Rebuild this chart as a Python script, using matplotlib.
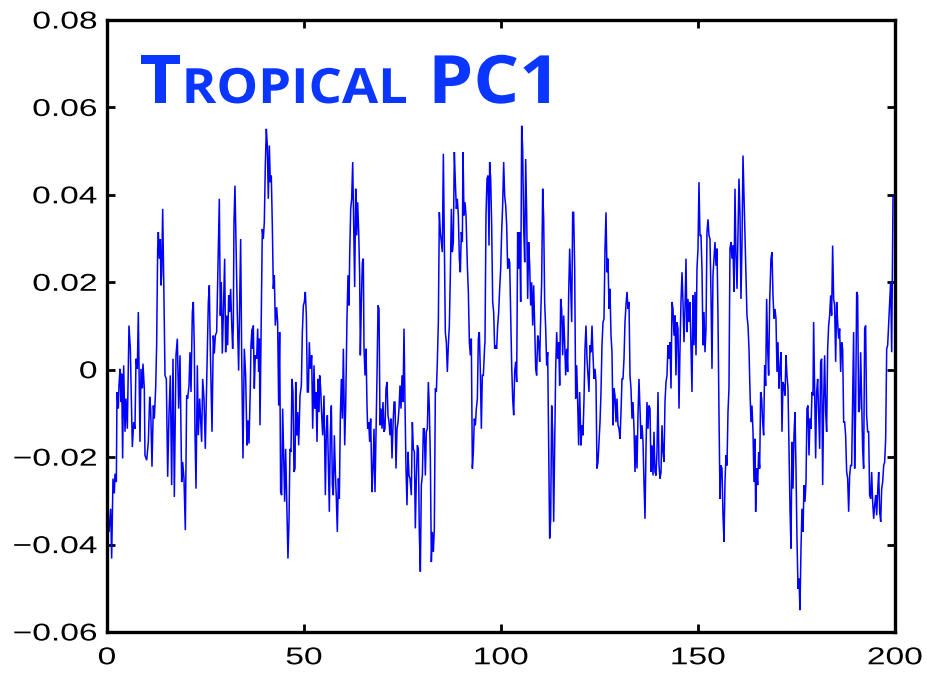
import numpy as np
import matplotlib
matplotlib.use("Agg")
import matplotlib.pyplot as plt
from matplotlib.patheffects import AbstractPathEffect
from matplotlib.transforms import Affine2D
from matplotlib.ticker import FuncFormatter

# ---------------- data: (time, PC1 x 1000) ----------------
pc1_samples = [
    (0.00, -33.3), (0.50, -37.1), (0.93, -31.8), (1.18, -43.2), (1.52, -24.9), (1.86, -28.3),
    (2.03, -23.8), (2.37, -25.7), (2.54, -5.1), (2.87, -8.9), (3.04, -3.6), (3.30, 0.2),
    (3.55, -7.4), (3.72, -0.9), (3.97, -20.3), (4.23, 1.0), (4.57, -14.2), (4.82, -6.6),
    (5.16, -13.5), (5.58, 10.1), (5.92, 4.8), (6.43, -17.7), (6.77, -12.0), (7.10, -13.5),
    (7.36, 2.5), (7.70, 0.2), (7.95, 13.2), (8.37, -16.5), (8.63, 0.2), (8.97, -4.3),
    (9.13, 1.4), (9.47, -4.3), (9.64, -19.6), (10.07, -20.7), (10.49, -16.5), (10.83, -6.2),
    (11.08, -8.9), (11.42, -22.2), (11.76, -8.2), (12.01, -11.2), (12.35, -4.3), (12.60, 5.6),
    (12.86, 27.7), (13.03, 31.5), (13.28, 25.4), (13.53, 29.9), (13.70, 19.3), (13.87, 21.6),
    (14.13, 36.8), (14.38, 21.6), (14.72, -1.3), (15.06, -2.1), (15.40, -24.5), (15.73, -10.4),
    (16.07, -1.3), (16.41, -26.4), (16.75, 2.5), (17.09, -29.1), (17.51, 3.3), (17.85, 7.1),
    (18.19, -8.9), (18.53, 3.3), (18.95, -25.7), (19.20, -21.1), (19.54, -24.9), (19.88, -36.7),
    (20.22, -5.9), (20.47, -6.6), (20.81, -3.6), (21.06, 4.0), (21.32, -5.1), (21.66, 13.2),
    (21.91, 15.5), (22.16, 4.8), (22.33, -14.2), (22.59, -27.2), (22.93, 1.0), (23.18, -15.0),
    (23.52, -6.6),
    (24.02, -16.5), (24.28, -2.1), (24.62, -6.6), (24.95, -18.1), (25.29, -2.8), (25.72, 15.5),
    (25.97, 19.3), (26.22, 4.8), (26.65, -14.2), (26.98, 7.8), (27.24, 3.7), (27.49, 7.8),
    (27.83, 8.6), (28.25, 27.7), (28.51, 39.1), (28.76, 12.4), (29.01, 20.0), (29.27, 3.7),
    (29.52, 12.4), (29.86, 25.4), (30.11, 4.0), (30.37, 12.4), (30.62, 5.6), (30.88, 17.0),
    (31.13, 13.2), (31.38, 18.5), (31.64, 10.9), (31.89, 4.8), (32.06, 10.1), (32.23, 33.8),
    (32.48, 42.1), (32.74, 29.2), (33.08, 12.4), (33.41, -0.2), (33.67, 15.5), (33.92, 29.9),
    (34.18, 3.3), (34.51, -20.3), (34.85, 4.8), (35.19, -1.3), (35.53, -17.3), (35.78, -11.6),
    (36.04, -16.9), (36.37, -4.3), (36.54, 5.6), (36.80, 9.4), (36.97, 4.8), (37.14, 10.1),
    (37.39, -4.3), (37.64, 3.3), (37.98, 2.5), (38.24, 9.4), (38.49, -0.5), (38.66, 7.1),
    (38.83, -12.7), (39.17, 12.4), (39.42, 32.2), (39.67, 29.9), (39.93, 33.8), (40.18, 46.7),
    (40.44, 55.1), (40.69, 51.3), (40.94, 39.1), (41.20, 51.3), (41.45, 42.9), (41.70, 44.4),
    (41.96, 33.0), (42.21, 18.5), (42.47, 21.6), (42.72, 10.1), (43.06, 14.3), (43.31, 10.9),
    (43.57, -8.2), (43.82, 8.6), (44.07, -28.0), (44.33, -28.7), (44.58, -8.9), (44.83, -19.6),
    (45.09, -30.2), (45.34, -18.1), (45.60, -29.5), (45.93, -43.2), (46.19, -34.8), (46.44, -18.1),
    (46.70, -18.8), (46.95, -2.1), (47.20, -5.1), (47.46, -23.4),
    (47.72, -22.6), (47.89, -2.8), (48.14, -15.0), (48.40, -9.7), (48.65, -17.3), (48.99, -5.9),
    (49.33, -3.6), (49.58, 8.6), (49.84, 14.7), (50.09, 15.5), (50.34, 17.8), (50.60, 12.4),
    (50.85, -5.1), (51.10, -5.1), (51.36, 6.3), (51.61, 0.2), (51.95, 3.3), (52.20, -13.5),
    (52.54, 1.0), (52.80, -8.9), (53.05, -5.1), (53.30, -16.5), (53.56, -2.1), (53.81, -9.7),
    (53.98, -1.3), (54.23, -4.3), (54.49, -10.4), (54.74, -15.0), (55.08, -5.9), (55.42, -28.7),
    (55.67, -14.2), (55.93, -10.4), (56.18, -21.1), (56.43, -32.5), (56.69, -14.2), (56.94, -8.2),
    (57.20, -26.4), (57.45, -28.7), (57.70, -15.0), (57.96, -23.4), (58.21, -29.5), (58.46, -37.1),
    (58.72, -24.9), (58.97, -29.5), (59.23, -10.4), (59.48, -2.1), (59.73, -11.2), (59.99, 4.8),
    (60.33, -17.3), (60.58, -8.2), (60.92, 12.4), (61.17, 21.6), (61.43, 14.7), (61.59, 26.1),
    (61.85, 36.8), (62.10, 39.1), (62.36, 47.5), (62.61, 33.8), (62.86, 18.9), (63.12, 41.4),
    (63.37, 30.7), (63.62, 38.3), (63.88, 31.5), (64.13, 21.6), (64.30, 3.3), (64.56, 15.5),
    (64.81, 24.6), (65.06, 25.4), (65.23, 4.8), (65.49, -1.3), (65.74, 4.8), (65.99, -8.2),
    (66.16, -13.5), (66.42, -12.0), (66.67, -16.5), (66.92, -11.2), (67.26, -28.0), (67.52, -22.6),
    (67.77, -13.5), (68.02, -28.0), (68.28, -15.0), (68.53, -1.3), (68.79, 14.7), (69.04, 13.9),
    (69.29, -12.7), (69.55, -8.9), (69.80, -13.5), (70.05, -7.4), (70.31, -14.2), (70.56, -13.5),
    (70.82, -4.3), (71.07, -2.8), (71.32, -10.4), (71.58, -12.0),
    (71.83, -15.0), (72.08, -11.2), (72.34, -20.3), (72.59, -12.7), (72.85, -7.4), (73.10, -7.4),
    (73.35, -22.6), (73.61, -13.5), (73.86, -12.0), (74.11, -8.9), (74.37, -3.6), (74.62, -8.9),
    (74.88, -1.3), (75.13, -7.4), (75.38, 9.4), (75.64, -8.2), (75.89, -22.6), (76.14, -31.0),
    (76.40, -18.8), (76.65, -24.2), (76.91, -24.9), (77.24, -28.7), (77.50, -12.0), (77.75, -18.1),
    (78.01, -18.8), (78.26, -36.3), (78.51, -24.9), (78.77, -17.3), (79.02, -18.1), (79.27, -37.1),
    (79.53, -46.2), (79.78, -26.4), (80.04, -24.2), (80.29, -13.5), (80.54, -13.5), (80.80, -24.2),
    (81.05, -14.2), (81.31, -13.5), (81.56, -2.8), (81.81, -8.9), (82.07, -20.3), (82.32, -44.0),
    (82.57, -37.1), (82.83, -41.7), (83.08, -36.3), (83.34, -4.3), (83.59, -5.1), (83.84, 1.8),
    (84.10, 10.9), (84.35, 36.0), (84.60, 31.5), (84.86, 29.2), (85.11, 26.9), (85.37, 49.4),
    (85.62, 29.2), (85.87, 8.6), (86.13, 6.3), (86.38, -0.5), (86.64, 5.6), (86.89, 10.1),
    (87.14, 21.6), (87.40, 36.8), (87.65, 26.9), (87.90, 29.2), (88.16, 49.8), (88.41, 42.9),
    (88.67, 36.8), (88.92, 39.1), (89.17, 35.3), (89.43, 25.4), (89.68, 22.3), (89.93, 31.5),
    (90.19, 29.2), (90.36, 49.8), (90.61, 35.3), (90.87, 38.3), (91.12, 35.3), (91.46, 23.8),
    (91.71, 17.8), (91.97, 6.3), (92.22, 3.3), (92.47, 7.1), (92.73, -22.6), (92.98, -18.8),
    (93.23, -11.2), (93.49, -12.7), (93.74, -8.9), (94.00, -6.6), (94.25, 7.1), (94.50, 8.6),
    (94.76, -0.5), (95.01, -13.5), (95.26, -1.3), (95.52, -1.3), (95.86, 5.6),
    (95.94, 6.3), (96.19, 35.3), (96.45, 43.7), (96.70, 44.4), (96.96, 28.4), (97.12, 47.5),
    (97.38, 43.7), (97.63, 33.0), (97.89, 15.5), (98.14, 13.2), (98.39, 4.8), (98.65, 5.6),
    (98.90, 4.8), (99.15, 10.1), (99.41, 13.2), (99.66, 18.5), (99.92, 23.1), (100.17, 31.5),
    (100.42, 37.6), (100.68, 47.5), (100.93, 39.8), (101.19, 37.6), (101.44, 33.0), (101.69, 23.1),
    (101.95, 25.4), (102.20, 24.6), (102.45, 13.2), (102.71, 1.0), (102.96, -6.6), (103.22, -10.4),
    (103.47, -0.5), (103.72, 1.8), (103.98, -2.8), (104.23, 31.5), (104.48, 23.1), (104.74, 31.5),
    (104.99, 15.5), (105.25, 55.8), (105.50, 50.5), (105.75, 33.0), (106.01, 24.6), (106.26, 48.2),
    (106.52, 35.3), (106.77, 16.2), (107.02, 29.2), (107.28, 23.8), (107.53, 14.7), (107.78, 20.0),
    (108.04, 10.1), (108.29, 19.3), (108.55, 10.1), (108.80, 0.2), (109.05, -1.3), (109.31, 7.8),
    (109.56, 6.3), (109.81, 1.8), (110.07, 11.7), (110.32, 20.0), (110.58, 41.4), (110.83, 34.5),
    (111.08, 15.5), (111.34, 9.4), (111.59, 1.0), (111.85, 4.0), (112.10, -16.5), (112.35, -38.6),
    (112.61, -34.1), (112.86, -8.2), (113.11, -14.2), (113.37, -34.8), (113.62, -18.1), (113.88, 0.2),
    (114.13, 8.6), (114.38, 2.5), (114.64, 6.3), (114.89, -3.6), (115.14, 16.2), (115.40, 13.9),
    (115.65, 3.3), (115.91, 12.4), (116.16, 6.3), (116.41, -1.3), (116.67, 4.8), (116.92, -0.5),
    (117.17, 17.0), (117.43, 27.7), (117.68, 19.3), (117.94, 10.9), (118.19, 36.0), (118.44, 36.0),
    (118.70, 23.1), (118.95, -6.6), (119.21, 1.0), (119.46, -7.4), (119.71, -17.3), (119.97, -5.1),
    (120.30, -17.3), (120.56, -12.7), (120.81, -15.0), (121.07, -6.6), (121.32, 4.8), (121.57, 10.1),
    (121.83, 2.5), (122.08, -1.3), (122.33, -5.1), (122.59, 5.6), (122.84, 4.0), (123.10, 10.1),
    (123.35, 3.3), (123.60, -2.1), (123.86, 0.2), (124.11, -2.8), (124.36, -22.6), (124.62, -21.1),
    (124.87, -16.5), (125.13, -12.0), (125.38, -5.1), (125.63, 5.6), (125.89, 10.9), (126.14, 11.6),
    (126.40, 27.7), (126.65, 36.0), (126.90, 22.3), (127.16, 25.4), (127.41, 13.9), (127.66, 18.5),
    (127.92, 7.8), (128.17, 4.0), (128.43, -12.7), (128.68, -4.3), (128.93, -5.9), (129.19, -12.0),
    (129.44, -6.6), (129.69, -12.7), (129.95, -13.5), (130.20, -15.8), (130.46, -9.7), (130.71, -2.1),
    (130.96, -2.1), (131.22, 2.5), (131.47, 10.9), (131.72, 14.7), (131.98, 17.8), (132.23, 13.9),
    (132.49, 15.5), (132.74, -1.3), (132.99, -4.3), (133.25, -11.2), (133.50, -7.4), (133.76, -13.5),
    (134.01, -23.4), (134.26, -15.0), (134.52, -22.6), (134.77, -10.4), (135.02, -2.1), (135.28, -8.9),
    (135.53, -15.8), (135.79, -12.7), (136.04, -16.5), (136.29, -25.7), (136.55, -34.1), (136.80, -18.1),
    (137.05, -7.4), (137.31, -13.5), (137.56, -8.2), (137.82, -8.9), (138.07, -23.4), (138.32, -17.3),
    (138.58, -24.2), (138.83, -14.2), (139.08, -23.4), (139.34, -24.2), (139.59, -18.8), (139.85, -5.1),
    (140.10, -21.9), (140.35, -24.9), (140.61, -23.4), (140.86, -12.7), (141.12, -18.8), (141.37, -21.1),
    (141.62, -7.4), (141.88, -2.8), (142.13, -1.3), (142.38, 5.6), (142.64, 2.5), (142.89, 6.3),
    (143.15, -4.3), (143.40, 15.5), (143.65, 13.9), (143.91, 7.8),
    (144.16, 12.4), (144.41, -1.3), (144.67, 10.9), (144.92, 9.4), (145.18, -8.9), (145.43, 4.8),
    (145.68, 15.5), (145.94, 22.3), (146.19, 15.5), (146.44, 6.3), (146.70, 13.9), (146.95, 25.4),
    (147.21, 8.6), (147.46, 16.2), (147.71, 10.9), (147.97, 15.5), (148.22, 4.8), (148.47, -5.1),
    (148.73, 17.0), (148.98, 5.6), (149.24, 17.8), (149.49, 3.3), (149.74, 23.1), (150.00, 27.7),
    (150.25, 42.9), (150.50, 30.7), (150.76, 30.7), (151.01, 23.1), (151.27, 5.6), (151.52, 13.2),
    (151.77, 4.0), (152.03, 9.4), (152.28, 31.5), (152.54, 34.4), (152.79, 30.7), (153.04, 29.9),
    (153.30, 17.0), (153.55, 0.2), (153.80, 21.6), (154.06, 25.4), (154.31, 29.2), (154.57, 23.8),
    (154.82, 27.7), (155.07, 12.4), (155.33, -10.4), (155.58, -29.5), (155.83, -21.9), (156.09, -22.6),
    (156.34, -33.3), (156.60, -39.4), (156.85, -25.7), (157.10, -19.6), (157.36, -21.9), (157.61, -9.7),
    (157.86, -4.3), (158.12, 27.7), (158.37, 29.2), (158.63, 25.4), (158.88, 28.4), (159.13, 17.8),
    (159.39, 41.4), (159.64, 26.1), (159.90, 18.5), (160.15, 31.5), (160.40, 43.7), (160.66, 35.3),
    (160.91, 16.2), (161.16, 28.4), (161.42, 49.0), (161.67, 39.8), (161.93, 29.2), (162.18, 21.6),
    (162.43, 12.4), (162.69, 10.1), (162.94, 4.8), (163.20, -5.1), (163.45, -12.0), (163.70, -8.2),
    (163.96, -14.2), (164.21, -25.7), (164.46, -15.8), (164.63, -32.5), (164.89, -22.6), (165.14, -26.4),
    (165.39, -18.9), (165.65, -22.6), (165.90, -5.1), (166.16, -6.6), (166.41, -12.0), (166.66, -15.0),
    (166.92, 1.0), (167.17, -3.7), (167.42, 16.2), (167.68, 4.8), (167.93, -1.3), (168.19, 15.5),
    (168.52, 25.4), (168.78, 26.9), (169.03, 17.0), (169.29, 11.7), (169.54, 13.9), (169.79, 11.7),
    (170.05, -0.5), (170.30, 6.3), (170.55, -4.3), (170.81, 0.2), (171.06, 4.0), (171.32, -14.2),
    (171.57, -2.8), (171.82, -3.7), (172.08, -5.9), (172.33, 3.3), (172.58, -1.3), (172.84, -4.3),
    (173.09, -18.1), (173.35, -31.8), (173.60, -40.9), (173.85, -16.5), (174.11, -27.2), (174.36, -15.0),
    (174.62, -9.7), (174.87, -22.6), (175.12, -38.6), (175.38, -50.1), (175.63, -47.8), (175.88, -55.0),
    (176.14, -40.9), (176.39, -31.8), (176.65, -37.1), (176.90, -26.4), (177.15, -30.2), (177.41, -25.7),
    (177.66, -8.9), (177.91, -8.2), (178.17, -19.6), (178.42, -11.2), (178.68, -13.5), (178.93, -5.1),
    (179.18, -5.9), (179.35, 10.9), (179.61, -4.3), (179.86, -20.3), (180.11, -5.1), (180.37, -2.1),
    (180.62, -9.7), (180.88, -18.1), (181.13, 1.8), (181.38, 2.5), (181.64, -26.4), (181.89, -7.4),
    (182.14, 3.3), (182.40, -9.7), (182.65, -14.2), (182.91, 4.8), (183.16, 10.1), (183.41, 12.4),
    (183.67, 17.0), (183.92, 12.4), (184.17, 28.4), (184.43, 16.2), (184.68, 14.7), (184.94, 1.8),
    (185.19, 15.5), (185.44, 10.9), (185.70, 7.1), (185.95, 9.4), (186.21, -0.5), (186.46, 6.3),
    (186.71, 4.8), (186.97, -12.0), (187.22, -12.0), (187.47, -15.0), (187.73, -23.4), (187.98, -24.8),
    (188.24, -32.5), (188.49, -24.2), (188.74, -21.9), (189.00, -21.9), (189.25, -7.4), (189.50, 8.6),
    (189.76, -22.6), (190.01, -8.9), (190.27, 17.8), (190.52, 17.0), (190.77, -9.7), (191.03, -8.9),
    (191.28, 4.0), (191.53, -7.4), (191.79, -18.1), (192.04, -22.6), (192.30, 9.4), (192.55, 10.1),
    (192.80, -10.4), (193.06, -14.2), (193.31, -14.2), (193.56, -28.7),
    (193.83, -29.5), (194.08, -23.4), (194.33, -30.2), (194.59, -34.1), (194.84, -31.0), (195.10, -28.7),
    (195.35, -33.3), (195.60, -28.0), (195.86, -23.4), (196.11, -32.5), (196.37, -34.8), (196.62, -27.2),
    (196.87, -25.7), (197.13, -21.9), (197.38, -21.1), (197.63, -15.8), (197.89, 4.8), (198.14, 5.6),
    (198.40, 10.9), (198.65, 15.5), (198.90, 20.0), (199.16, 4.0), (199.50, 39.8),
]
x_ticks = [0, 50, 100, 150, 200]
y_ticks = [-0.06, -0.04, -0.02, 0.0, 0.02, 0.04, 0.06, 0.08]
title_parts = [("T", "cap"), ("ROPICAL", "small"), ("PC1", "cap")]

years = np.array([p[0] for p in pc1_samples])
pc1 = np.array([p[1] for p in pc1_samples]) / 1000.0


class StretchX(AbstractPathEffect):
    """Draw text paths stretched horizontally (the reference is wide-stretched)."""

    def __init__(self, sx, anchor="origin"):
        super().__init__()
        self.sx = sx
        self.anchor = anchor

    def draw_path(self, renderer, gc, tpath, affine, rgbFace=None):
        if self.anchor == "origin":
            x0 = affine.transform((0.0, 0.0))[0]
        else:
            ext = tpath.get_extents(affine)
            x0 = {"left": ext.x0, "right": ext.x1,
                  "center": 0.5 * (ext.x0 + ext.x1)}[self.anchor]
        new = affine + Affine2D().translate(-x0, 0).scale(self.sx, 1).translate(x0, 0)
        renderer.draw_path(gc, tpath, new, rgbFace)


plt.rcParams["font.family"] = ["Liberation Sans", "DejaVu Sans"]

W, H = 928, 676
fig = plt.figure(figsize=(W / 100, H / 100), dpi=100)
fig.patch.set_facecolor("white")
ax = fig.add_axes([107 / W, 1 - 632 / H, 788 / W, 612 / H])

ax.plot(years, pc1, color="#0000ff", lw=1.1, solid_joinstyle="miter")
ax.set_xlim(0, 200)
ax.set_ylim(-0.06, 0.08)
ax.set_xticks(x_ticks)
ax.set_yticks(y_ticks)
ax.xaxis.set_major_formatter(FuncFormatter(lambda v, p: f"{v:g}"))
ax.yaxis.set_major_formatter(FuncFormatter(
    lambda v, p: "0" if abs(v) < 1e-12 else f"{v:.2f}".replace("-", "\u2212")))
ax.tick_params(direction="in", length=6, width=2, top=True, right=True,
               labelsize=17.5, colors="black")
ax.tick_params(axis="y", pad=7)
ax.tick_params(axis="x", pad=11)
for s in ax.spines.values():
    s.set_linewidth(2.4)

fig.canvas.draw()
for lbl in ax.get_yticklabels():
    lbl.set_path_effects([StretchX(1.38, "right")])
for lbl in ax.get_xticklabels():
    lbl.set_path_effects([StretchX(1.38, "center")])

# ---- small-caps title "TROPICAL PC1" ----
renderer = fig.canvas.get_renderer()
sizes = {"cap": 48, "small": 35}
sx_title = 1.08
x_px = 140.0
base_px = 103.0
for i, (txt, kind) in enumerate(title_parts):
    t = fig.text(x_px / W, 1 - base_px / H, txt, fontsize=sizes[kind],
                 family=["Open Sans", "DejaVu Sans"], fontweight="bold",
                 color="#0a36ff", ha="left", va="baseline")
    t.set_path_effects([StretchX(sx_title, "origin")])
    w = t.get_window_extent(renderer).width
    x_px += w * sx_title
    if txt == "ROPICAL":
        x_px += 20

fig.savefig("out.png", dpi=100, facecolor="white")
